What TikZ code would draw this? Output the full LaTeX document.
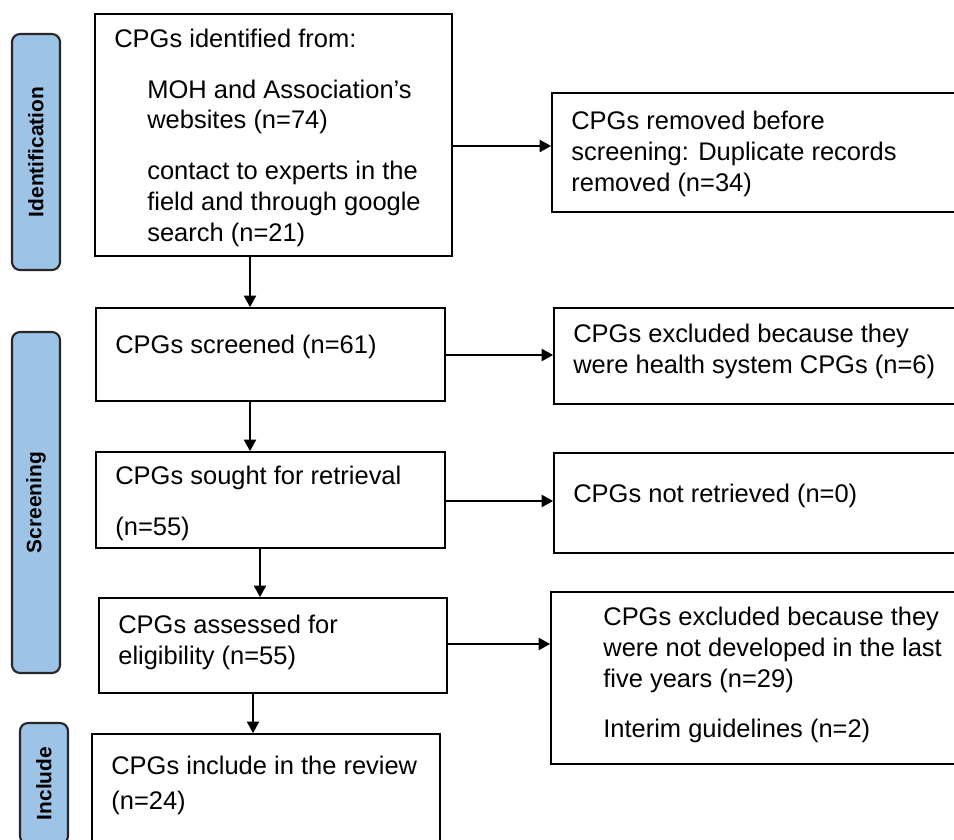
\documentclass[tikz,border=0pt]{standalone}
\usepackage{fontspec}
\setmainfont{Liberation Sans}
\usetikzlibrary{arrows.meta}
\definecolor{stageblue}{HTML}{9DC3E6}
\newcommand{\boxfont}{\fontsize{14.5}{17.6}\selectfont}
\newcommand{\stagefont}{\fontsize{11.9}{14}\selectfont\bfseries}
\newcommand{\ind}{\hspace*{0.66cm}}

\begin{document}
\begin{tikzpicture}[x=0.02cm, y=-0.02cm]
        \useasboundingbox (0,0) rectangle (954,839);
        \clip (0,0) rectangle (954,839);
        % stage labels
        \begin{scope}[every node/.style={draw=black!85, line width=1.2pt, fill=stageblue, rounded corners=0.16cm,
                rotate=90, minimum height=0.96cm, inner sep=0pt, font=\stagefont}]
            \node (st1) [minimum width=4.72cm] at (36, 152) {Identification};
            \node (st2) [minimum width=6.82cm] at (36, 502.5) {Screening};
            \node (st3) [minimum width=2.42cm] at (44, 783.5) {Include};
        \end{scope}
        % boxes
        \begin{scope}[every node/.style={draw, line width=1.1pt, inner sep=0pt}]
            \node (b1) [minimum width=7.14cm, minimum height=4.84cm] at (273.5, 135) {};
            \node (b2) [minimum width=6.98cm, minimum height=1.86cm] at (270.5, 354.5) {};
            \node (b3) [minimum width=6.98cm, minimum height=1.92cm] at (270.5, 500) {};
            \node (b4) [minimum width=6.96cm, minimum height=1.90cm] at (273, 645.5) {};
            \node (b5) [minimum width=6.96cm, minimum height=2.92cm] at (266, 807) {};
            \node (x1) [minimum width=8.56cm, minimum height=2.38cm] at (766, 152.5) {};
            \node (x2) [minimum width=8.52cm, minimum height=1.92cm] at (767, 356) {};
            \node (x3) [minimum width=8.52cm, minimum height=2.00cm] at (767, 503) {};
            \node (x4) [minimum width=8.58cm, minimum height=3.44cm] at (765.5, 678) {};
        \end{scope}
        % box texts
        \begin{scope}[every node/.style={anchor=north west, inner sep=0pt, align=left, font=\boxfont}]
            \node (tb1) at (114, 29) {CPGs identified from:\\[11pt]
                \ind MOH and Association’s\\ \ind websites (n=74)\\[11pt]
                \ind contact to experts in the\\ \ind field and through google\\ \ind search (n=21)};
            \node (tb2) at (115, 335) {CPGs screened (n=61)};
            \node (tb3) at (115, 466) {CPGs sought for retrieval\\[11pt] (n=55)};
            \node (tb4) at (118, 615) {CPGs assessed for\\ eligibility (n=55)};
            \node (tb5) at (111, 756) {CPGs include in the review\\[2pt] (n=24)};
            \node (tx1) at (571, 111) {CPGs removed before\\ screening: Duplicate records\\ removed (n=34)};
            \node (tx2) at (573, 324) {CPGs excluded because they\\ were health system CPGs (n=6)};
            \node (tx3) at (573, 484) {CPGs not retrieved (n=0)};
            \node (tx4) at (603, 607) {CPGs excluded because they\\ were not developed in the last\\ five years (n=29)\\[11pt]
                Interim guidelines (n=2)};
        \end{scope}
        % arrows
        \begin{scope}[-{Triangle[length=6.5pt, width=7pt]}, line width=0.6pt]
            \path (b1.south -| 250,0) edge (b2.north -| 250,0);
            \path (b2.south -| 250,0) edge (b3.north -| 250,0);
            \path (b3.south -| 260,0) edge (b4.north -| 260,0);
            \path (b4.south -| 253,0) edge (b5.north -| 253,0);
            \path (b1.east |- 0,146) edge (x1.west |- 0,146);
            \path (b2.east |- 0,355) edge (x2.west |- 0,355);
            \path (b3.east |- 0,501) edge (x3.west |- 0,501);
            \path (b4.east |- 0,644) edge (x4.west |- 0,644);
        \end{scope}
    \end{tikzpicture}
\end{document}
